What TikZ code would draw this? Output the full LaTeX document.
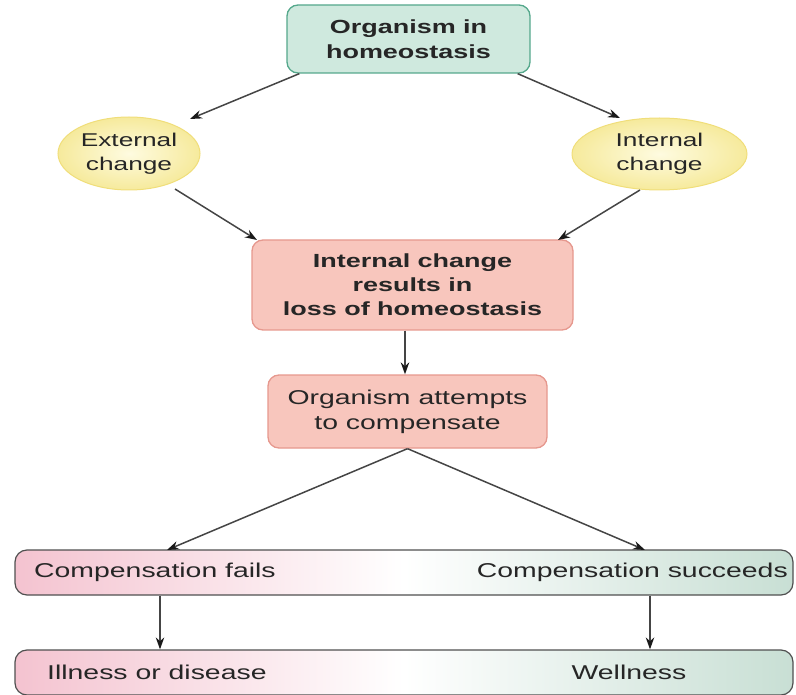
\documentclass[tikz,border=0pt]{standalone}
\usepackage{fontspec}
\setmainfont[FakeStretch=1.42]{Liberation Sans}
\usetikzlibrary{shapes.geometric,arrows.meta}
\definecolor{txt}{HTML}{262626}
\definecolor{topfill}{HTML}{CFE9DE}
\definecolor{topdraw}{HTML}{55A88C}
\definecolor{pinkfill}{HTML}{F8C6BD}
\definecolor{pinkdraw}{HTML}{E6988E}
\definecolor{ellin}{HTML}{FEFBE0}
\definecolor{ellout}{HTML}{F6EA9C}
\definecolor{elldraw}{HTML}{F0DE7A}
\definecolor{barleft}{HTML}{F4C3D0}
\definecolor{barright}{HTML}{C8DFD4}
\definecolor{bardraw}{HTML}{505050}
\definecolor{arrcol}{HTML}{454545}
\definecolor{tipcol}{HTML}{1A1A1A}
\begin{document}
\begin{tikzpicture}[x=1pt,y=-1pt,
  box/.style={draw, rounded corners=11pt, line width=1.3pt, align=center, text=txt, inner sep=0pt},
  topbox/.style={box, draw=topdraw, fill=topfill, font=\fontsize{19}{25}\selectfont\bfseries},
  lossbox/.style={box, draw=pinkdraw, fill=pinkfill, font=\fontsize{19}{24}\selectfont\bfseries},
  attbox/.style={box, draw=pinkdraw, fill=pinkfill, font=\fontsize{20}{25}\selectfont},
  ell/.style={ellipse, draw=elldraw, line width=1pt, inner color=ellin, outer color=ellout, align=center, text=txt, inner sep=0pt, font=\fontsize{18.5}{24}\selectfont},
  bar/.style={draw=bardraw, line width=1.2pt, rounded corners=12pt, left color=barleft, right color=barright, middle color=white, inner sep=0pt},
  lbl/.style={text=txt, inner sep=0pt, font=\fontsize{20}{24}\selectfont},
  arr/.style={draw=arrcol, line width=1.5pt, -{Stealth[length=12pt,width=8.5pt,color=tipcol]}}
]
\useasboundingbox (0,0) rectangle (796,695);

\node[topbox, minimum width=243pt, minimum height=68pt] (top) at (408.5,39) {Organism in\\homeostasis};
\node[ell, minimum width=142pt, minimum height=73pt] (ext) at (129,153.5) {External\\change};
\node[ell, minimum width=175pt, minimum height=72pt] (int) at (659.5,154) {Internal\\change};
\node[lossbox, minimum width=321pt, minimum height=90pt] (loss) at (412.5,285) {Internal change\\results in\\loss of homeostasis};
\node[attbox, minimum width=279pt, minimum height=73pt] (att) at (407.5,411.5) {Organism attempts\\to compensate};

\node[bar, minimum width=778pt, minimum height=45pt] (bar1) at (404,572.5) {};
\node[bar, minimum width=778pt, minimum height=45pt] (bar2) at (404,672.5) {};

\node[lbl, anchor=west] (fails) at (34,572.5) {Compensation fails};
\node[lbl, anchor=east] (succ) at (788,572.5) {Compensation succeeds};
\node[lbl, anchor=west] (ill) at (47,672.5) {Illness or disease};
\node[lbl] (well) at (629,672.5) {Wellness};

\coordinate (lx) at (160,0);
\coordinate (rx) at (650,0);
\coordinate (extin) at (190,119);
\coordinate (intin) at (620,118);
\coordinate (extout) at (175,189);
\coordinate (intout) at (640,190);
\coordinate (lossinL) at (257,240);
\coordinate (lossinR) at (558,240);
\coordinate (b1L) at (167,550);
\coordinate (b1R) at (645,550);

\draw[arr] ([xshift=13pt]top.south west) -- (extin);
\draw[arr] ([xshift=-13pt]top.south east) -- (intin);
\draw[arr] (extout) -- (lossinL);
\draw[arr] (intout) -- (lossinR);
\draw[arr] (loss.south -| 405,0) -- (att.north -| 405,0);
\draw[arr] (att.south) -- (b1L);
\draw[arr] (att.south) -- (b1R);
\draw[arr] (bar1.south -| lx) -- (bar2.north -| lx);
\draw[arr] (bar1.south -| rx) -- (bar2.north -| rx);
\end{tikzpicture}
\end{document}
